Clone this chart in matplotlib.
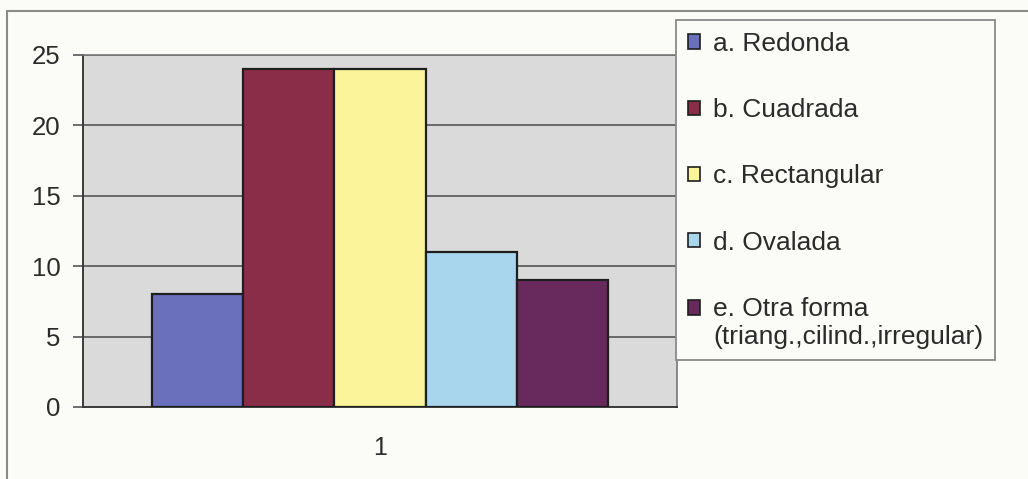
import numpy as np
import matplotlib
matplotlib.use('Agg')
import matplotlib.pyplot as plt
from matplotlib.patches import Rectangle, Patch

# data
labels = ["a. Redonda", "b. Cuadrada", "c. Rectangular", "d. Ovalada",
          "e. Otra forma\n(triang.,cilind.,irregular)"]
values = [8, 24, 24, 11, 9]
colors = ["#6b70bd", "#8a2d48", "#fbf49a", "#a8d6ec", "#682a5c"]
group_label = "1"
yticks = [0, 5, 10, 15, 20, 25]

BG = "#fbfbf7"
PLOT_BG = "#dadada"
TXT = "#2b2b2b"
FS = 19

plt.rcParams.update({'font.family': ['Liberation Sans', 'DejaVu Sans'],
                     'font.size': FS, 'text.color': TXT})

fig = plt.figure(figsize=(10.28, 4.79), dpi=100)
fig.patch.set_facecolor(BG)

W, H = 1028, 479
ax = fig.add_axes([83/W, 1-407/H, (677-83)/W, (407-55)/H])
ax.set_facecolor(PLOT_BG)

# outer chart frame (runs off the right/bottom)
fig.patches.append(Rectangle((7/W, -0.05), 1.1, 1-11/H+0.05, transform=fig.transFigure,
                             fill=False, edgecolor="#8a8a8a", lw=1.5, zorder=0))

n = len(values)
offs = np.arange(n) - (n - 1) / 2
bars = ax.bar(offs, values, width=1.0, color=colors, edgecolor="#1e1e1e", lw=1.6, zorder=3)

ax.set_xlim(-3.25, 3.25)
ax.set_ylim(0, 25)
ax.set_yticks(yticks)
ax.set_xticks([0])
ax.set_xticklabels([group_label])
ax.tick_params(axis='x', length=0, pad=21, labelsize=18, colors=TXT)
ax.tick_params(axis='y', length=7, width=1.2, color="#555555", pad=9, labelsize=18.5, colors=TXT)
ax.yaxis.grid(True, color="#4a4a4a", lw=1.1, zorder=1)
ax.set_axisbelow(True)
for s in ['left', 'bottom']:
    ax.spines[s].set_color("#3a3a3a"); ax.spines[s].set_linewidth(1.4)
for s in ['top', 'right']:
    ax.spines[s].set_color("#777777"); ax.spines[s].set_linewidth(1.2)

handles = [Patch(facecolor=c, edgecolor="#1e1e1e", lw=1.2) for c in colors]
leg = fig.legend(handles, labels, loc='upper left', bbox_to_anchor=(676/W, 1-20/H),
                 frameon=True, fancybox=False, edgecolor="#8a8a8a", facecolor=BG,
                 fontsize=FS, handlelength=0.45, handleheight=0.45, handletextpad=0.5,
                 borderpad=0.45, labelspacing=1.6, borderaxespad=0)
leg.get_frame().set_linewidth(1.3)
leg.get_frame().set_alpha(1)
# put the last swatch next to the first line of its two-line label
last = leg.legend_handles[-1]
last.set_y(last.get_y() + 0.58 * FS)

fig.savefig("out.png", dpi=100, facecolor=BG)
